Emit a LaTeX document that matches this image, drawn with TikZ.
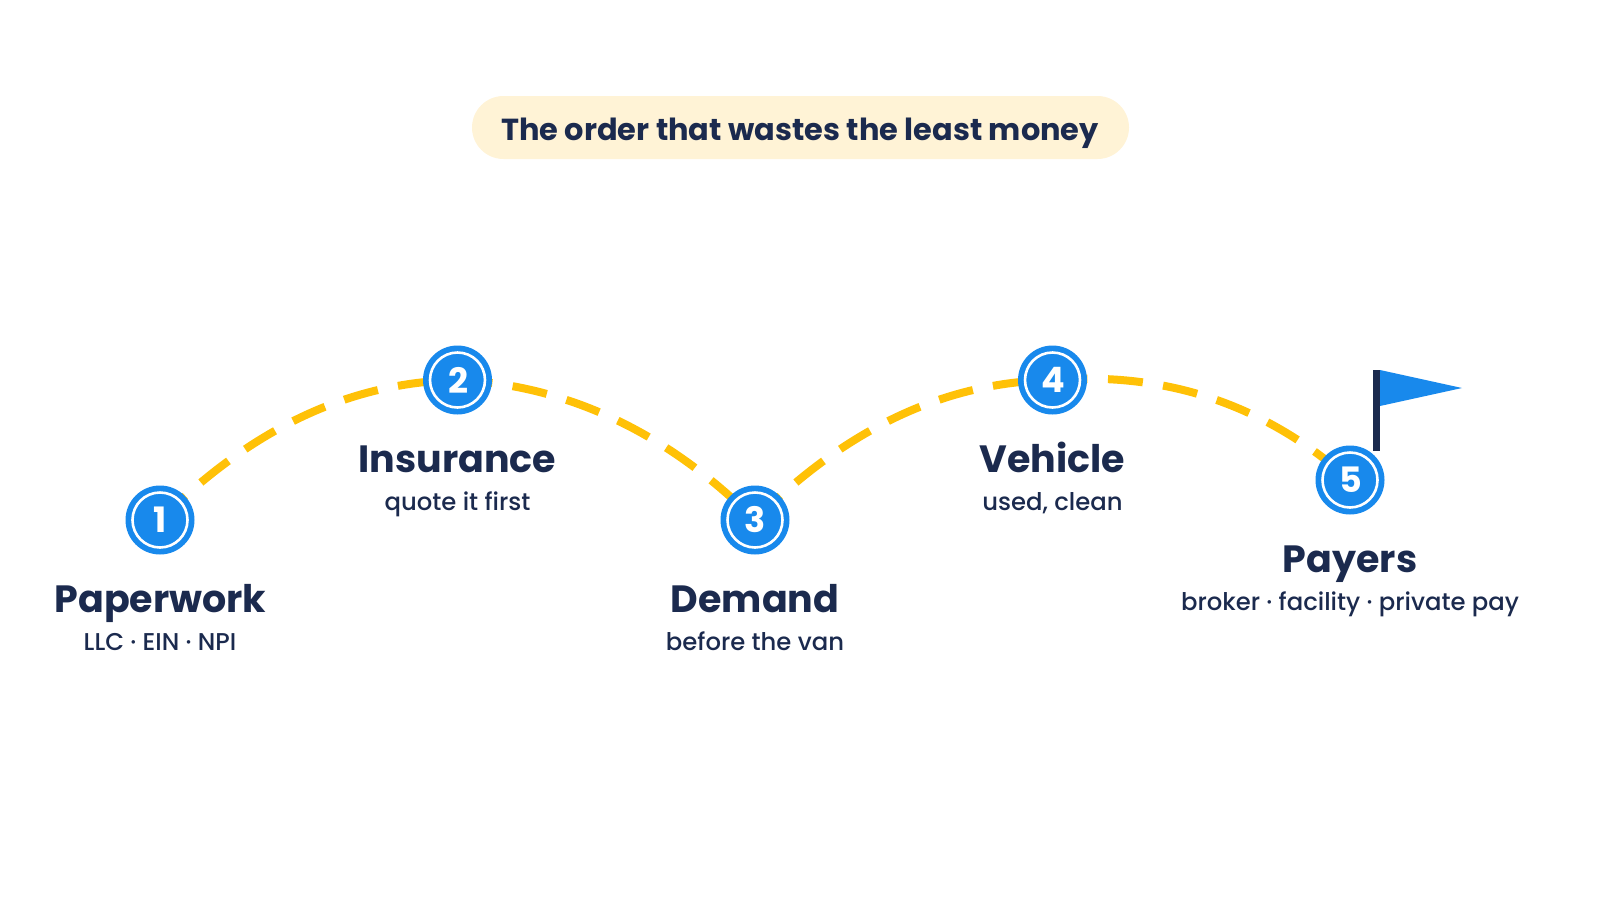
\documentclass[tikz,border=0pt]{standalone}
\usepackage{fontspec}
\setmainfont{Poppins}
\newfontfamily\medfont{Poppins Medium}
\usetikzlibrary{backgrounds}
\definecolor{navy}{HTML}{1B2A4E}
\definecolor{stepblue}{HTML}{1889EC}
\definecolor{pathyellow}{HTML}{FFC107}
\definecolor{pillcream}{HTML}{FFF3D6}
\newcommand{\stepnum}[1]{\hspace*{1pt}\raisebox{-0.8pt}{#1}}
\tikzset{
  x=1pt,y=-1pt,
  stepdot/.style={circle,fill=stepblue,minimum size=69pt,inner sep=0pt,text=white,
    font=\fontsize{35}{40}\selectfont\bfseries,
    path picture={\draw[white,line width=2.6pt] (path picture bounding box.center) circle[radius=27.5pt];}},
  heading/.style={anchor=base,text=navy,inner sep=0pt,font=\fontsize{38}{46}\selectfont\bfseries},
  subline/.style={anchor=base,text=navy,inner sep=0pt,font=\fontsize{24.3}{30}\selectfont\medfont},
  trail/.style={draw=pathyellow,line width=8pt,dash pattern=on 35pt off 20.5pt},
}
\begin{document}
\begin{tikzpicture}
\useasboundingbox (0,0) rectangle (1600,900);
\node[fill=pillcream,rounded corners=31.5pt,minimum width=657pt,minimum height=63pt,inner sep=0pt] (pill) at (800.5,127.5) {};
\node[anchor=base,text=navy,inner sep=0pt,font=\fontsize{30.4}{38}\selectfont\bfseries] (title) at (800,140) {The order that wastes the least money};
\node[stepdot] (n1) at (160,520) {\stepnum{1}};
\node[stepdot] (n2) at (457.5,380) {\stepnum{2}};
\node[stepdot] (n3) at (755,520) {\stepnum{3}};
\node[stepdot] (n4) at (1052.5,380) {\stepnum{4}};
\node[stepdot] (n5) at (1350,480) {\stepnum{5}};
\begin{scope}[on background layer]
\path[trail] (n1.center) .. controls (260,420) and (360,382) .. (n2.center);
\path[trail] (n2.center) .. controls (550,384) and (655,420) .. (n3.center);
\path[trail] (n3.center) .. controls (855,420) and (955,382) .. (n4.center);
\path[trail] (n4.center) .. controls (1160,372) and (1260,400) .. (n5.center);
\end{scope}
\node[heading] (h1) at (160.5,612) {Paperwork};
\node[subline] (s1) at (160,650) {LLC · EIN · NPI};
\node[heading] (h2) at (457.5,472) {Insurance};
\node[subline] (s2) at (457.5,510) {quote it first};
\node[heading] (h3) at (755,612) {Demand};
\node[subline] (s3) at (755,650) {before the van};
\node[heading] (h4) at (1052.5,472) {Vehicle};
\node[subline] (s4) at (1052.5,510) {used, clean};
\node[heading] (h5) at (1350,572) {Payers};
\node[subline] (s5) at (1350,610) {broker · facility · private pay};
\fill[navy] (1373,370) rectangle (1380,451);
\fill[stepblue] (1380,370) -- (1462,388) -- (1380,406) -- cycle;
\end{tikzpicture}
\end{document}
